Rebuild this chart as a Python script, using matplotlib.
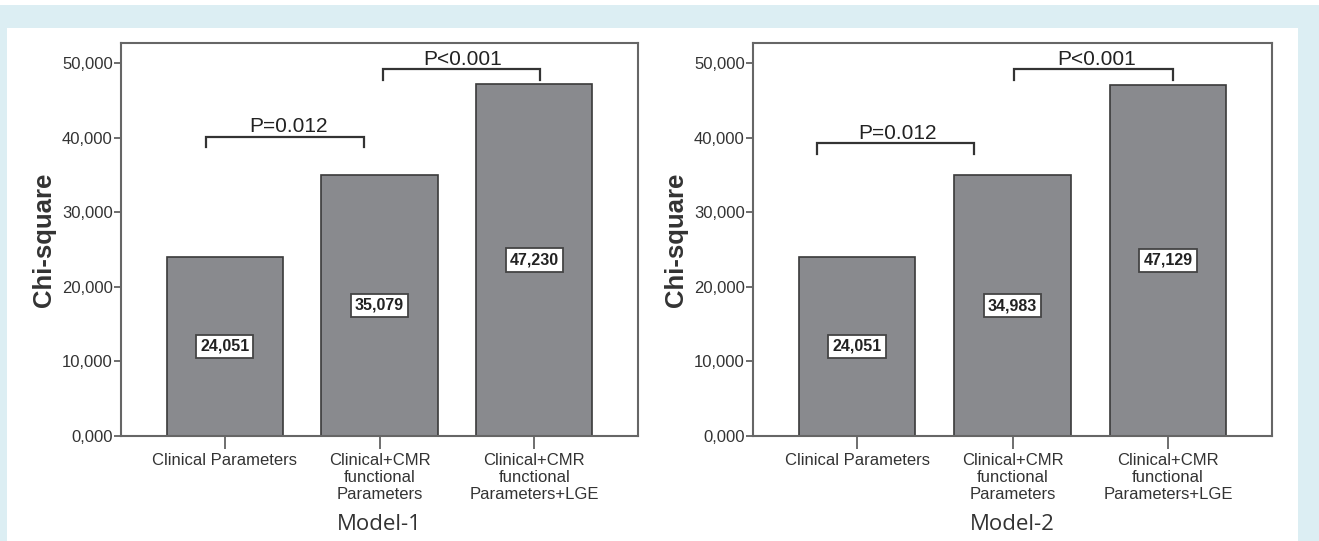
import matplotlib
matplotlib.use("Agg")
import matplotlib.pyplot as plt
from matplotlib.patches import Rectangle

categories = ["Clinical Parameters",
              "Clinical+CMR\nfunctional\nParameters",
              "Clinical+CMR\nfunctional\nParameters+LGE"]
model1_values = [24051, 35079, 47230]
model2_values = [24051, 34983, 47129]
model1_labels = ["24,051", "35,079", "47,230"]
model2_labels = ["24,051", "34,983", "47,129"]
yticks = [0, 10000, 20000, 30000, 40000, 50000]
ytick_labels = ["0,000", "10,000", "20,000", "30,000", "40,000", "50,000"]
titles = ["Model-1", "Model-2"]
# brackets: (x_left, x_right, y_line, y_leg_end, text, text_x)
brackets1 = [(-0.12, 0.90, 40200, 38800, "P=0.012", 0.41),
             (1.02, 2.04, 49300, 47800, "P<0.001", 1.54)]
brackets2 = [(-0.26, 0.75, 39300, 37850, "P=0.012", 0.26),
             (1.01, 2.03, 49300, 47800, "P<0.001", 1.54)]

W, H = 1319, 541
fig = plt.figure(figsize=(W / 100, H / 100), dpi=100)
fig.patch.set_facecolor("#DCEEF3")
fig.patches.append(Rectangle((7 / W, 0), (1298 - 7) / W, (H - 28) / H,
                             transform=fig.transFigure, facecolor="white",
                             edgecolor="none", zorder=-10))
fig.patches.append(Rectangle((0, (H - 5) / H), 1, 5 / H,
                             transform=fig.transFigure, facecolor="white",
                             edgecolor="none", zorder=-10))

axes_pos = [(121, 638), (753, 1272)]
top_px, bot_px = 43, 436
sets = [(model1_values, model1_labels, brackets1),
        (model2_values, model2_labels, brackets2)]

for i, ((l, r), (vals, labs, brs)) in enumerate(zip(axes_pos, sets)):
    ax = fig.add_axes([l / W, (H - bot_px) / H, (r - l) / W, (bot_px - top_px) / H])
    ax.set_facecolor("white")
    x = list(range(len(categories)))
    ax.bar(x, vals, width=0.75, color="#898A8E", edgecolor="#3A3A3A", linewidth=1.2, zorder=2)
    ax.set_xlim(-0.67, 2.67)
    ax.set_ylim(0, 52750)
    ax.set_yticks(yticks)
    ax.set_yticklabels(ytick_labels, fontsize=12, color="#333333", family="Liberation Sans")
    ax.set_xticks(x)
    ax.set_xticklabels(categories, fontsize=12, color="#333333", family="Liberation Sans",
                       linespacing=1.17)
    ax.tick_params(axis="y", length=5, width=1.2, color="#555555", pad=1)
    ax.tick_params(axis="x", length=9, width=1.2, color="#555555", pad=3)
    for s in ax.spines.values():
        s.set_color("#666666")
        s.set_linewidth(1.5)
    ax.set_ylabel("Chi-square", fontsize=18.5, fontweight="bold", color="#333333",
                  family="Liberation Sans", labelpad=4)
    ax.set_xlabel(titles[i], fontsize=16, color="#333333", family="Open Sans", labelpad=9)
    for xi, v, lab in zip(x, vals, labs):
        ax.text(xi, v / 2, lab, ha="center", va="center", fontsize=11.5, fontweight="bold",
                family="Liberation Sans", color="#222222",
                bbox=dict(boxstyle="square,pad=0.26", facecolor="white",
                          edgecolor="#444444", linewidth=1.3), zorder=5)
    for (xl, xr, yl, ye, txt, tx) in brs:
        ax.plot([xl, xl, xr, xr], [ye, yl, yl, ye], color="#333333", linewidth=1.6,
                zorder=4, solid_joinstyle="miter")
        ax.text(tx, yl + 550, txt, ha="center", va="baseline", fontsize=15,
                family="Liberation Sans", color="#222222")

fig.savefig("out.png", dpi=100, facecolor=fig.get_facecolor())
